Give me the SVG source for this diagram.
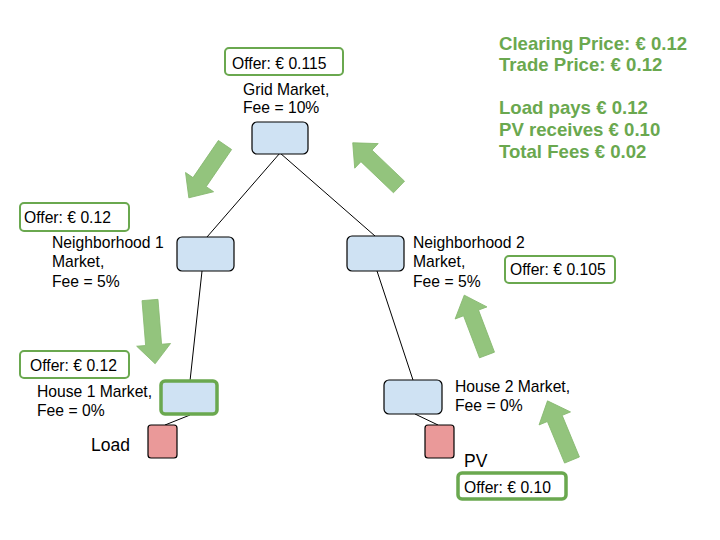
<svg xmlns="http://www.w3.org/2000/svg" width="720" height="540" viewBox="0 0 720 540">
<style>
text{font-family:"Liberation Sans",Arial,sans-serif;fill:#000;}
.lbl{font-size:15.7px;}
.big{font-size:17.5px;}
.sum{font-size:18.6px;font-weight:bold;fill:#6aa84f;}
.mkt{fill:#cfe2f3;stroke:#000;stroke-width:1.2;}
.dev{fill:#ea9999;stroke:#000;stroke-width:1.2;}
.offer{fill:#fff;stroke:#6aa84f;stroke-width:2;}
.offer.sel{stroke-width:3.5;}
.conn line{stroke:#000;stroke-width:1;}
.flow{fill:#93c47d;stroke:#86b86f;stroke-width:0.8;}
</style>
<defs>
<path id="arr" d="M0,-8 L45,-8 L45,-17 L64,0 L45,17 L45,8 L0,8 Z"/>
</defs>
<rect width="720" height="540" fill="#fff"/>
<g id="connectors" class="conn">
<line x1="280" y1="153" x2="207" y2="237"/>
<line x1="280" y1="153" x2="375" y2="236"/>
<line x1="202" y1="271" x2="190" y2="381"/>
<line x1="377" y1="271" x2="413" y2="380"/>
<line x1="190" y1="415" x2="165" y2="425"/>
<line x1="415" y1="414" x2="438" y2="425"/>
</g>
<g id="flows" class="flow">
<use href="#arr" transform="translate(225,145) rotate(124.4)"/>
<use href="#arr" transform="translate(399,187) rotate(-136.3)"/>
<use href="#arr" transform="translate(150,300) rotate(85.4)"/>
<use href="#arr" transform="translate(487,355) rotate(-110.8)"/>
<use href="#arr" transform="translate(572,460) rotate(-112.5)"/>
</g>
<g id="grid">
<rect class="offer" x="225" y="48" width="118" height="27" rx="4"/>
<text class="lbl" x="232" y="69">Offer: € 0.115</text>
<text class="lbl" x="243" y="95">Grid Market,</text>
<text class="lbl" x="243" y="113">Fee = 10%</text>
<rect class="mkt" x="252" y="122" width="56" height="32" rx="5"/>
</g>
<g id="neighborhood1">
<rect class="offer" x="20" y="203" width="109" height="28" rx="4"/>
<text class="lbl" x="24" y="223">Offer: € 0.12</text>
<text class="lbl" x="52" y="248">Neighborhood 1</text>
<text class="lbl" x="52" y="267">Market,</text>
<text class="lbl" x="52" y="287">Fee = 5%</text>
<rect class="mkt" x="177" y="237" width="57" height="34" rx="5"/>
</g>
<g id="neighborhood2">
<rect class="mkt" x="347" y="236" width="57" height="35" rx="5"/>
<text class="lbl" x="413" y="248">Neighborhood 2</text>
<text class="lbl" x="413" y="267">Market,</text>
<text class="lbl" x="413" y="287">Fee = 5%</text>
<rect class="offer" x="505" y="256" width="110" height="27" rx="4"/>
<text class="lbl" x="510" y="275">Offer: € 0.105</text>
</g>
<g id="house1">
<rect class="offer" x="20" y="351" width="109" height="27" rx="4"/>
<text class="lbl" x="30" y="371">Offer: € 0.12</text>
<text class="lbl" x="37" y="397">House 1 Market,</text>
<text class="lbl" x="37" y="416">Fee = 0%</text>
<rect class="mkt" x="161" y="381" width="56" height="33" rx="4" style="stroke:#6aa84f;stroke-width:3.5"/>
</g>
<g id="load">
<rect class="dev" x="148" y="425" width="29" height="33" rx="3"/>
<text class="big" x="91" y="451">Load</text>
</g>
<g id="house2">
<rect class="mkt" x="384" y="380" width="58" height="34" rx="5"/>
<text class="lbl" x="455" y="392">House 2 Market,</text>
<text class="lbl" x="455" y="411">Fee = 0%</text>
</g>
<g id="pv">
<rect class="dev" x="425" y="425" width="29" height="33" rx="3"/>
<text class="big" x="464" y="467">PV</text>
<rect class="offer sel" x="458" y="473" width="108" height="26" rx="4"/>
<text class="lbl" x="464" y="493">Offer: € 0.10</text>
</g>
<g id="summary">
<text class="sum" x="499" y="50">Clearing Price: € 0.12</text>
<text class="sum" x="499" y="71">Trade Price: € 0.12</text>
<text class="sum" x="499" y="114">Load pays € 0.12</text>
<text class="sum" x="499" y="136">PV receives € 0.10</text>
<text class="sum" x="499" y="158">Total Fees € 0.02</text>
</g>
</svg>
